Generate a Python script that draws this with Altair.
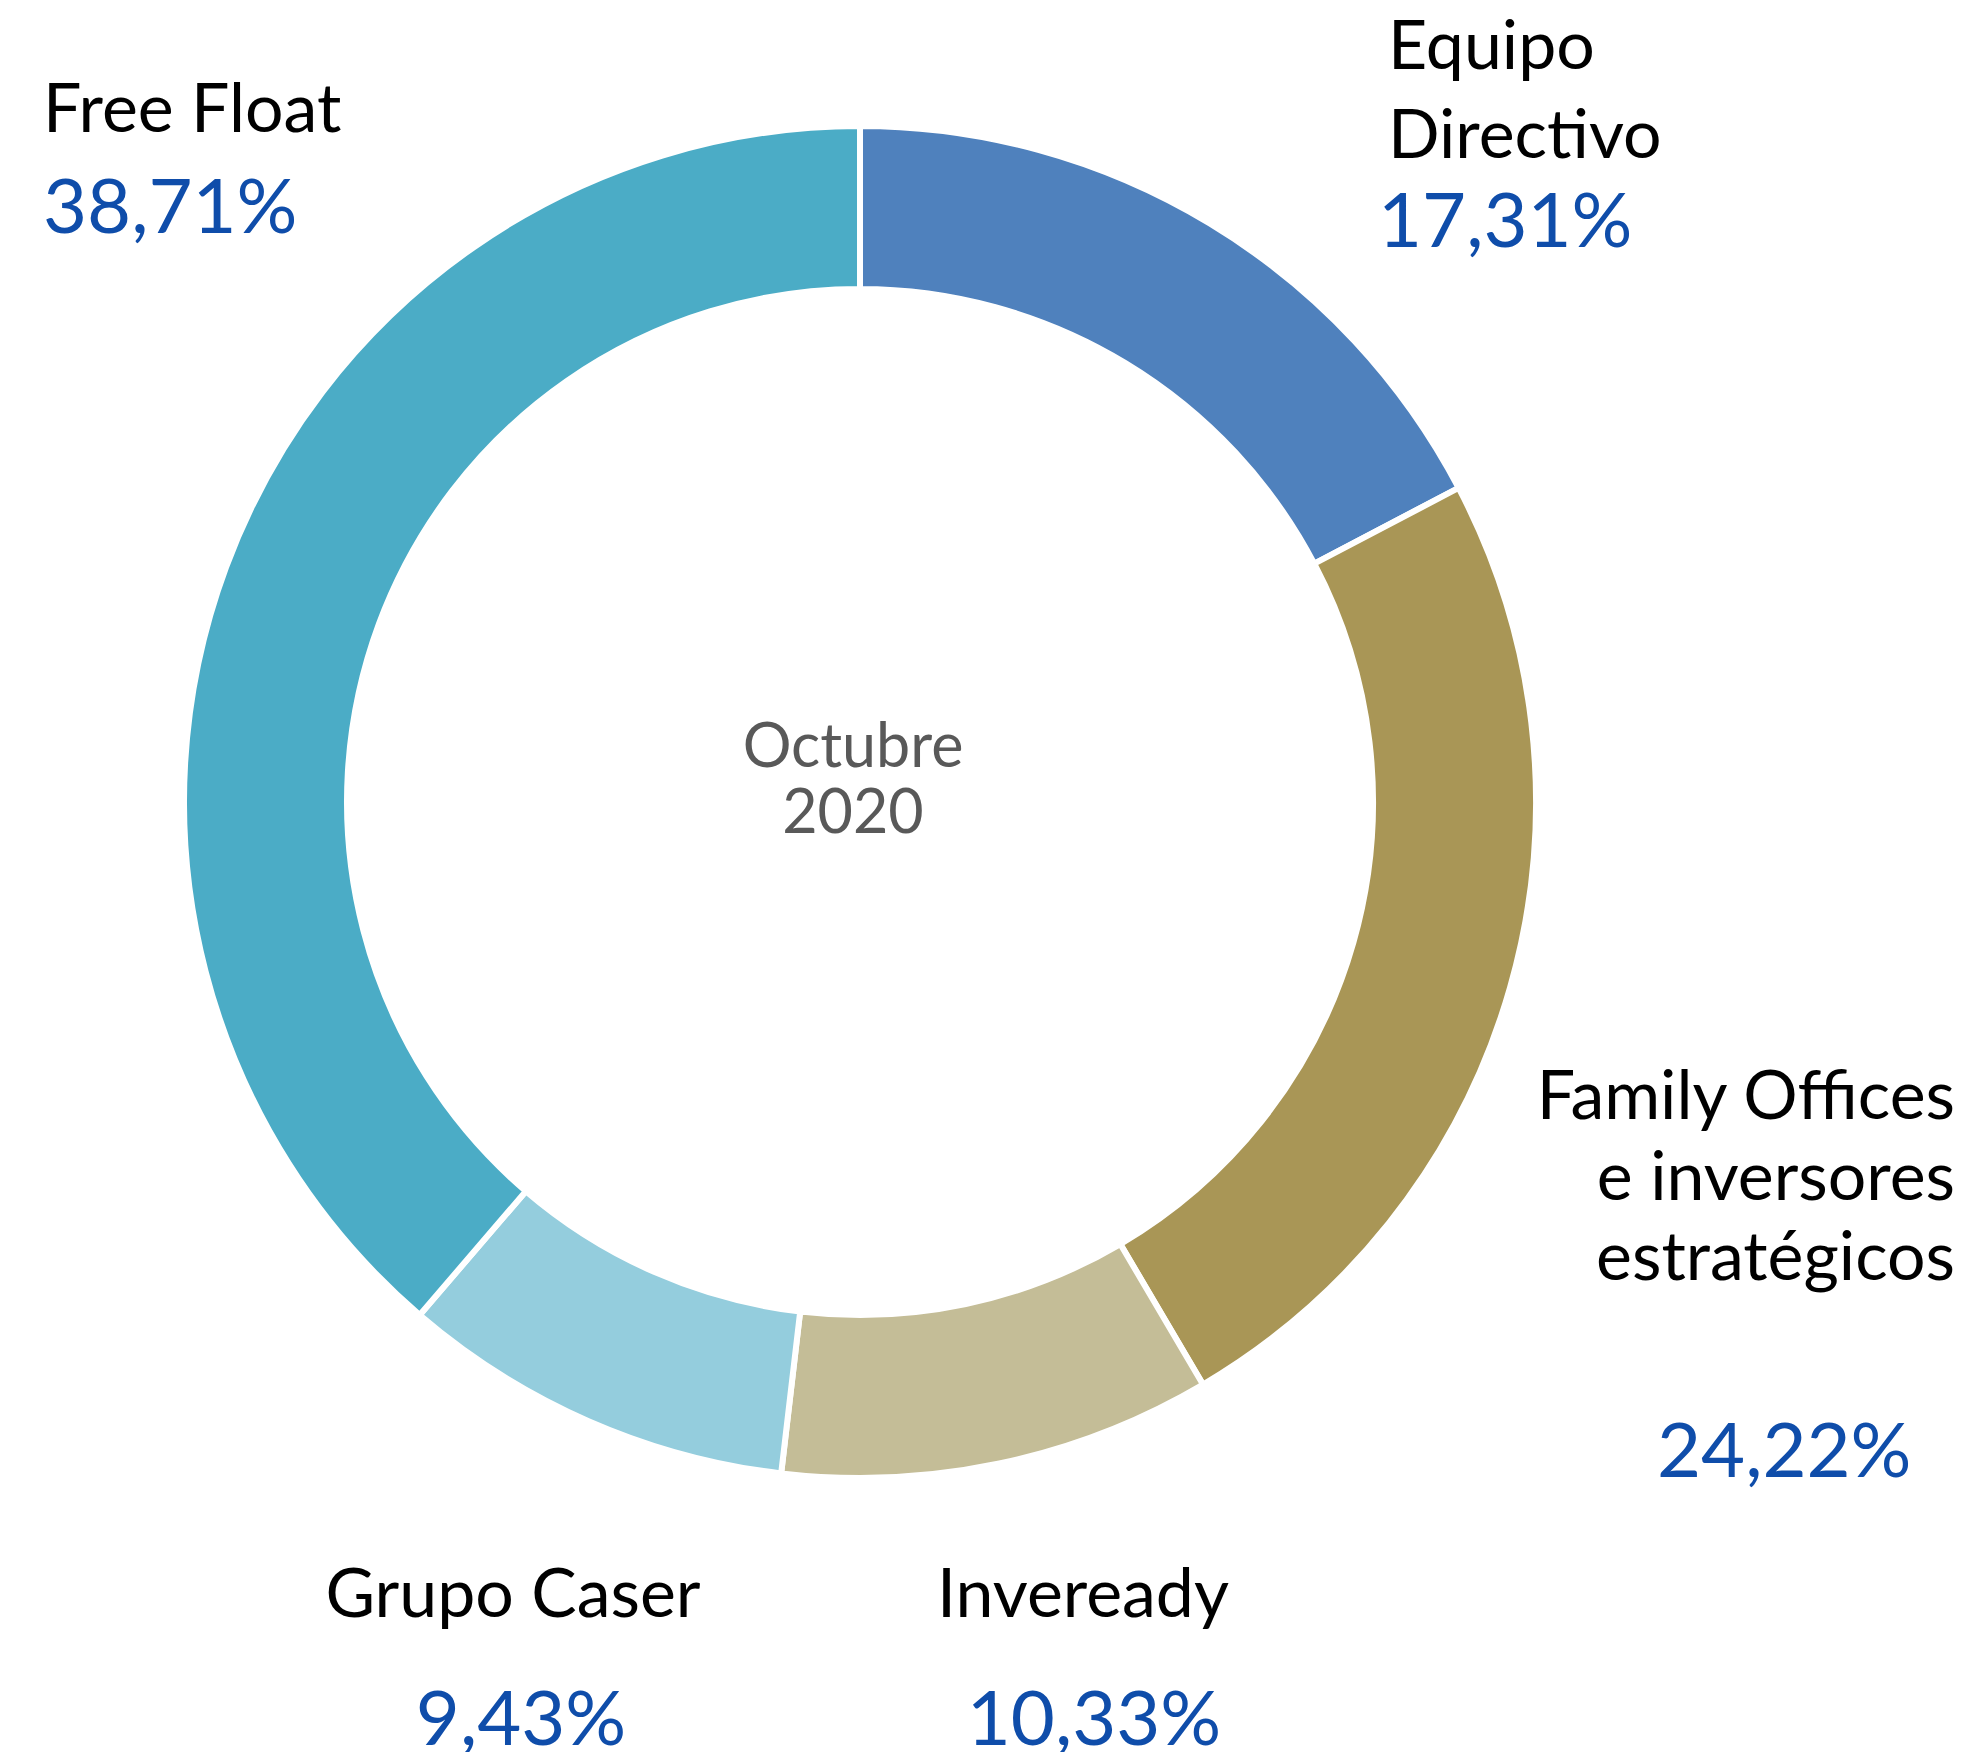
import altair as alt
import pandas as pd

# Data
categories = ["Equipo Directivo", "Family Offices e inversores estratégicos", "Inveready", "Grupo Caser", "Free Float"]
values = [17.31, 24.22, 10.33, 9.43, 38.71]
colors = ["#4F81BD", "#A99656", "#C4BD97", "#94CDDD", "#4BACC6"]
pct_labels = ["17,31%", "24,22%", "10,33%", "9,43%", "38,71%"]
center_lines = ["Octubre", "2020"]

W, H = 1946, 1744
CX, CY = 852, 794

df = pd.DataFrame({"cat": categories, "value": values, "order": list(range(len(values)))})

donut = alt.Chart(df).mark_arc(outerRadius=676, innerRadius=513, stroke="white", strokeWidth=6).encode(
    theta=alt.Theta("value:Q", stack=True),
    order=alt.Order("order:Q"),
    color=alt.Color("cat:N", scale=alt.Scale(domain=categories, range=colors), legend=None),
    x=alt.value(CX),
    y=alt.value(CY),
)

FONT = "Lato"
BLACK = "#000000"
BLUE = "#0F4DAA"
GRAY = "#595959"

# label layout: (text, x, y, align, color, size)
name_rows = [
    ("Equipo", 1380, 61, "left", BLACK, 68),
    ("Directivo", 1380, 150, "left", BLACK, 68),
    ("Family Offices", 1947, 1111, "right", BLACK, 68),
    ("e inversores", 1947, 1192, "right", BLACK, 68),
    ("estratégicos", 1947, 1272, "right", BLACK, 68),
    ("Inveready", 1075, 1609, "center", BLACK, 68),
    ("Grupo Caser", 505, 1609, "center", BLACK, 68),
    ("Free Float", 35, 124, "left", BLACK, 68),
]
pct_pos = [
    (1370, 239, "left"),
    (1649, 1469, "left"),
    (1086, 1737, "center"),
    (513, 1737, "center"),
    (35, 225, "left"),
]
rows = list(name_rows)
for lab, (x, y, a) in zip(pct_labels, pct_pos):
    rows.append((lab, x, y, a, BLUE, 76))
rows.append((center_lines[0], 845, 759, "center", GRAY, 61))
rows.append((center_lines[1], 845, 825, "center", GRAY, 61))

layers = [donut]
for (t, x, y, a, c, s) in rows:
    layers.append(
        alt.Chart(pd.DataFrame({"t": [t]})).mark_text(
            align=a, baseline="alphabetic", font=FONT, fontSize=s, color=c
        ).encode(text="t:N", x=alt.value(x), y=alt.value(y))
    )

chart = alt.layer(*layers).properties(
    width=W, height=H, autosize=alt.AutoSizeParams(type="none"), padding=0
).configure_view(stroke=None)

chart.save("out.html", embed_options={"renderer": "svg", "actions": False})
